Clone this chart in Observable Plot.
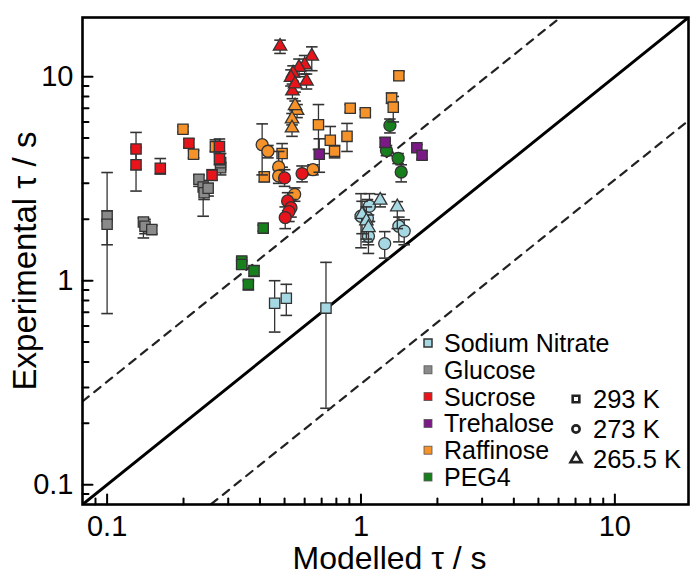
<!DOCTYPE html>
<html><head><meta charset="utf-8">
<script src="https://cdn.jsdelivr.net/npm/d3@7"></script>
<script src="https://cdn.jsdelivr.net/npm/@observablehq/plot@0.6"></script>
<style>
html,body{margin:0;padding:0;background:#fff;}
#wrap{position:relative;width:690px;height:578px;}
#legend{position:absolute;left:0;top:0;pointer-events:none;}
</style></head><body><div id="wrap"></div>
<script>
// ---------- data ----------
const seriesNames  = ["Sodium Nitrate","Glucose","Sucrose","Trehalose","Raffinose","PEG4"];
const seriesColors = ["#a6d8e4","#8a8a8a","#e8141c","#7b1a86","#f5922a","#17801c"];
const tempLabels   = ["293 K","273 K","265.5 K"];
const tempSymbols  = ["square","circle","triangle"];
const majorTicks = [0.1, 1, 10];
const minorTicks = [0.09,0.2,0.3,0.4,0.5,0.6,0.7,0.8,0.9,2,3,4,5,6,7,8,9];
const axisDomain = [0.08, 19.5];
const lineFactor = 3.2;
const xTitle = "Modelled τ / s";
const yTitle = "Experimental τ / s";

// [modelled, experimental, errLow, errHigh]
const sodiumNitrate293 = [[0.457,0.776,0.56,1.0],[0.508,0.82,0.676,0.96],[0.728,0.734,0.237,1.23]];
const sodiumNitrate273 = [[1.00,2.07,1.45,2.67],[1.06,2.03,1.55,2.5],[1.08,2.32,1.95,2.67],[1.07,1.65,1.36,1.95],[1.24,1.52,1.29,1.74],[1.41,1.85,1.55,2.05],[1.48,1.75,1.5,1.99]];
const sodiumNitrate265 = [[1.19,2.48,2.3,2.65],[1.39,2.30,1.8,2.44],[1.01,2.11,1.7,2.45],[1.05,1.96,1.6,2.3],[1.07,1.82,1.5,2.1]];
const glucose293 = [[0.1,2.07,0.69,3.39],[0.1,1.89,1.5,2.2],[0.139,1.94,1.62,2.03],[0.141,1.85,1.7,2.0],[0.150,1.78,1.7,1.86],[0.23,3.14,2.9,3.3],[0.239,2.88,2.07,3.1],[0.241,2.70,2.5,2.9],[0.25,2.84,2.6,3.0],[0.28,3.58,3.3,3.8],[0.28,3.79,3.5,4.2]];
const sucrose293 = [[0.13,4.42,3.5,5.33],[0.13,3.70,2.75,4.5],[0.162,3.56,3.33,3.97],[0.21,4.72,4.5,4.95],[0.259,3.29,3.1,3.5],[0.277,4.55,4.2,4.95],[0.277,3.96,3.7,4.3]];
const sucrose273 = [[0.50,3.19,2.9,3.5],[0.586,3.35,3.05,3.65],[0.514,2.46,2.2,2.7],[0.53,2.28,2.05,2.5],[0.52,2.18,1.95,2.4],[0.503,2.04,1.8,2.3]];
const sucrose265 = [[0.48,14.1,13.0,15.1],[0.64,12.6,10.7,14.0],[0.60,11.4,10.3,12.7],[0.57,11.1,10.0,12.2],[0.54,10.4,9.5,11.3],[0.53,9.9,9.0,10.8],[0.61,9.5,8.7,10.3],[0.537,8.5,7.8,9.2],[0.55,9.2,8.4,10.0]];
const trehalose293 = [[0.685,4.17,3.4,4.96],[1.245,4.77,4.5,5.0],[1.66,4.48,4.3,4.65],[1.74,4.12,3.95,4.3]];
const raffinose293 = [[0.199,5.52,5.35,5.7],[0.219,4.17,4.0,4.35],[0.267,4.53,4.3,4.9],[0.416,3.23,3.05,3.4],[0.489,4.2,3.6,4.7],[0.68,5.81,4.4,7.3],[0.757,4.88,4.2,5.7],[0.787,4.31,4.0,4.6],[0.881,5.1,4.3,5.9],[0.907,7.0,6.7,7.3],[1.04,6.65,6.4,6.9],[1.41,10.1,9.6,10.6],[1.32,7.85,7.4,8.3],[1.34,7.09,6.0,8.0]];
const raffinose273 = [[0.408,4.64,3.3,5.87],[0.43,4.31,4.0,4.6],[0.474,3.61,3.3,4.3],[0.474,3.26,3.0,3.5],[0.548,2.65,2.45,2.85],[0.647,3.5,3.3,3.7]];
const raffinose265 = [[0.56,6.83,6.3,7.3],[0.55,7.2,6.8,7.6],[0.535,6.2,5.8,6.6],[0.535,5.6,5.1,6.0]];
const peg4293 = [[0.412,1.81,1.75,1.87],[0.339,1.25,1.15,1.3],[0.339,1.2,1.15,1.25],[0.379,1.12,1.05,1.18],[0.36,0.96,0.9,1.0]];
const peg4273 = [[1.30,5.77,5.3,6.2],[1.26,4.35,4.1,4.6],[1.40,3.98,3.75,4.2],[1.44,3.41,3.05,3.7]];

// drawing order (later on top)
const groups = [
  ["Glucose","293 K",glucose293],
  ["PEG4","293 K",peg4293],["PEG4","273 K",peg4273],
  ["Raffinose","293 K",raffinose293],["Raffinose","273 K",raffinose273],["Raffinose","265.5 K",raffinose265],
  ["Sucrose","293 K",sucrose293],["Sucrose","273 K",sucrose273],["Sucrose","265.5 K",sucrose265],
  ["Trehalose","293 K",trehalose293],
  ["Sodium Nitrate","293 K",sodiumNitrate293],["Sodium Nitrate","273 K",sodiumNitrate273],["Sodium Nitrate","265.5 K",sodiumNitrate265]
];

// ---------- marks ----------
const capSymbol = {draw(ctx, size){ const w = Math.sqrt(size/Math.PI); ctx.moveTo(-w,0); ctx.lineTo(w,0); }};
const tickUp = {draw(ctx, l){ ctx.moveTo(0,0); ctx.lineTo(0,-l); }};
const symbolR = {"square":5.8, "circle":6.0, "triangle":5.0};
const edge = "#333";

const pointMarks = [];
for (const [series, temp, pts] of groups) {
  const rows = pts.map(([x,y,lo,hi]) => ({series, temp, x, y, lo, hi}));
  const sym = tempSymbols[tempLabels.indexOf(temp)];
  pointMarks.push(
    Plot.ruleX(rows, {x:"x", y1:"lo", y2:"hi", stroke:edge, strokeWidth:1.3}),
    Plot.dot(rows, {x:"x", y:"lo", symbol:capSymbol, r:5.8, fill:"none", stroke:edge, strokeWidth:1.6}),
    Plot.dot(rows, {x:"x", y:"hi", symbol:capSymbol, r:5.8, fill:"none", stroke:edge, strokeWidth:1.6}),
    Plot.dot(rows, {x:"x", y:"y", symbol:sym, r:symbolR[sym], fill:"series", stroke:edge, strokeWidth:1.3})
  );
}

const chart = Plot.plot({
  width: 690, height: 578,
  marginLeft: 82, marginRight: 2, marginTop: 17, marginBottom: 74,
  style: {fontFamily: "'Liberation Sans', Arial, Helvetica, sans-serif", background: "white", color: "black", overflow: "visible"},
  x: {type: "log", domain: axisDomain},
  y: {type: "log", domain: axisDomain},
  color: {domain: seriesNames, range: seriesColors},
  marks: [
    Plot.line(axisDomain, {x: d => d, y: d => d * lineFactor, stroke: "#222", strokeWidth: 2.2, strokeDasharray: "8,7", clip: true}),
    Plot.line(axisDomain, {x: d => d, y: d => d / lineFactor, stroke: "#222", strokeWidth: 2.2, strokeDasharray: "8,7", clip: true}),
    Plot.line(axisDomain, {x: d => d, y: d => d, stroke: "black", strokeWidth: 3, clip: true}),
    ...pointMarks,
    // inward ticks
    Plot.vector(majorTicks, {x: d => d, frameAnchor: "bottom", length: 10, anchor: "start", shape: tickUp, stroke: "black", strokeWidth: 2}),
    Plot.vector(minorTicks, {x: d => d, frameAnchor: "bottom", length: 6, anchor: "start", shape: tickUp, stroke: "black", strokeWidth: 2}),
    Plot.vector(majorTicks, {y: d => d, frameAnchor: "left", length: 10, anchor: "start", rotate: 90, shape: tickUp, stroke: "black", strokeWidth: 2}),
    Plot.vector(minorTicks, {y: d => d, frameAnchor: "left", length: 6, anchor: "start", rotate: 90, shape: tickUp, stroke: "black", strokeWidth: 2}),
    Plot.axisX(majorTicks, {tickSize: 0, tickPadding: 11, fontSize: 29, tickFormat: d => String(d), label: null}),
    Plot.axisY(majorTicks, {tickSize: 0, tickPadding: 9, fontSize: 29, tickFormat: d => String(d), label: null}),
    Plot.text([xTitle], {text: d => d, frameAnchor: "bottom", lineAnchor: "middle", textAnchor: "middle", dy: 54, dx: 4, fontSize: 32}),
    Plot.text([yTitle], {text: d => d, frameAnchor: "left", lineAnchor: "middle", textAnchor: "middle", dx: -57, rotate: -90, fontSize: 33}),
    Plot.frame({stroke: "black", strokeWidth: 2.6})
  ]
});

const wrap = document.getElementById("wrap");
wrap.appendChild(chart);

// ---------- legend overlay ----------
const lg = d3.select(wrap).append("svg").attr("id","legend").attr("width",690).attr("height",578)
  .style("font-family","'Liberation Sans', Arial, Helvetica, sans-serif");
seriesNames.forEach((name, i) => {
  const base = 352 + i * 26.8;
  lg.append("rect").attr("x", 424).attr("y", base - 13).attr("width", 8).attr("height", 8)
    .attr("fill", seriesColors[i]).attr("stroke", i === 0 ? "#333" : "#555").attr("stroke-width", i === 0 ? 1.5 : 0.8);
  lg.append("text").attr("x", 444).attr("y", base).attr("font-size", 25).attr("fill","black").text(name);
});
tempLabels.forEach((t, i) => {
  const base = 408 + i * 30;
  const cx = 576, cy = base - 9;
  const sym = d3.symbol().type([d3.symbolSquare, d3.symbolCircle, d3.symbolTriangle][i]).size([44, 42, 52][i]);
  lg.append("path").attr("d", sym()).attr("transform", `translate(${cx},${cy})`)
    .attr("fill", "white").attr("stroke", "#222").attr("stroke-width", 2.6);
  lg.append("text").attr("x", 593).attr("y", base).attr("font-size", 25.5).attr("fill","black").text(t);
});
</script></body></html>
